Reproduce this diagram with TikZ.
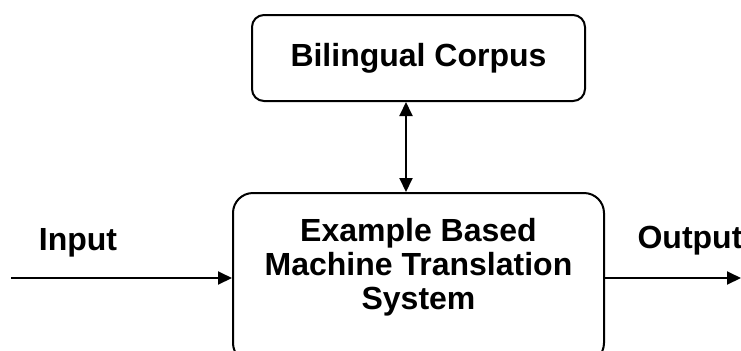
\documentclass[tikz,border=0pt]{standalone}
\usepackage{fontspec}
\setmainfont{Liberation Sans}
\usetikzlibrary{arrows.meta}

\begin{document}
\begin{tikzpicture}[x=0.5pt, y=-0.5pt, >={Triangle[length=7pt,width=6.5pt]}]

    % estilos
    \tikzstyle{block}=[draw, line width=1pt, rounded corners=6pt, minimum width=166.5pt, minimum height=43pt, inner sep=0pt]
    \tikzstyle{mainblock}=[draw, line width=1pt, rounded corners=10pt, minimum width=185.5pt, minimum height=85pt, inner sep=0pt]
    \tikzstyle{label}=[font=\fontsize{16}{17}\selectfont\bfseries, align=center, inner sep=0pt]
    \tikzstyle{flow}=[->, line width=1pt]

    % area visivel
    \clip (0,0) rectangle (741,350);

    %======================= BLOCOS =======================
    \node[block, label] (corpus) at (418.5,58) {Bilingual Corpus};

    \node[mainblock] (ebmt) at (418.5,278) {};
    \node[label] (ebmttext) at (418.5,267) {Example Based\\Machine Translation\\System};

    %======================= ENTRADA / SAIDA =======================
    \node[label] (input) at (78,243) {Input};
    \node[label] (output) at (690,241) {Output};

    \coordinate (src) at (11,278);
    \coordinate (dst) at (741,278);
    \coordinate (link) at (406,150);

    % setas
    \draw[flow] (src) -- (ebmt.west);
    \draw[flow] (ebmt.east) -- (dst);
    \draw[<->, line width=1pt] (corpus.south -| link) -- (ebmt.north -| link);

\end{tikzpicture}
\end{document}
